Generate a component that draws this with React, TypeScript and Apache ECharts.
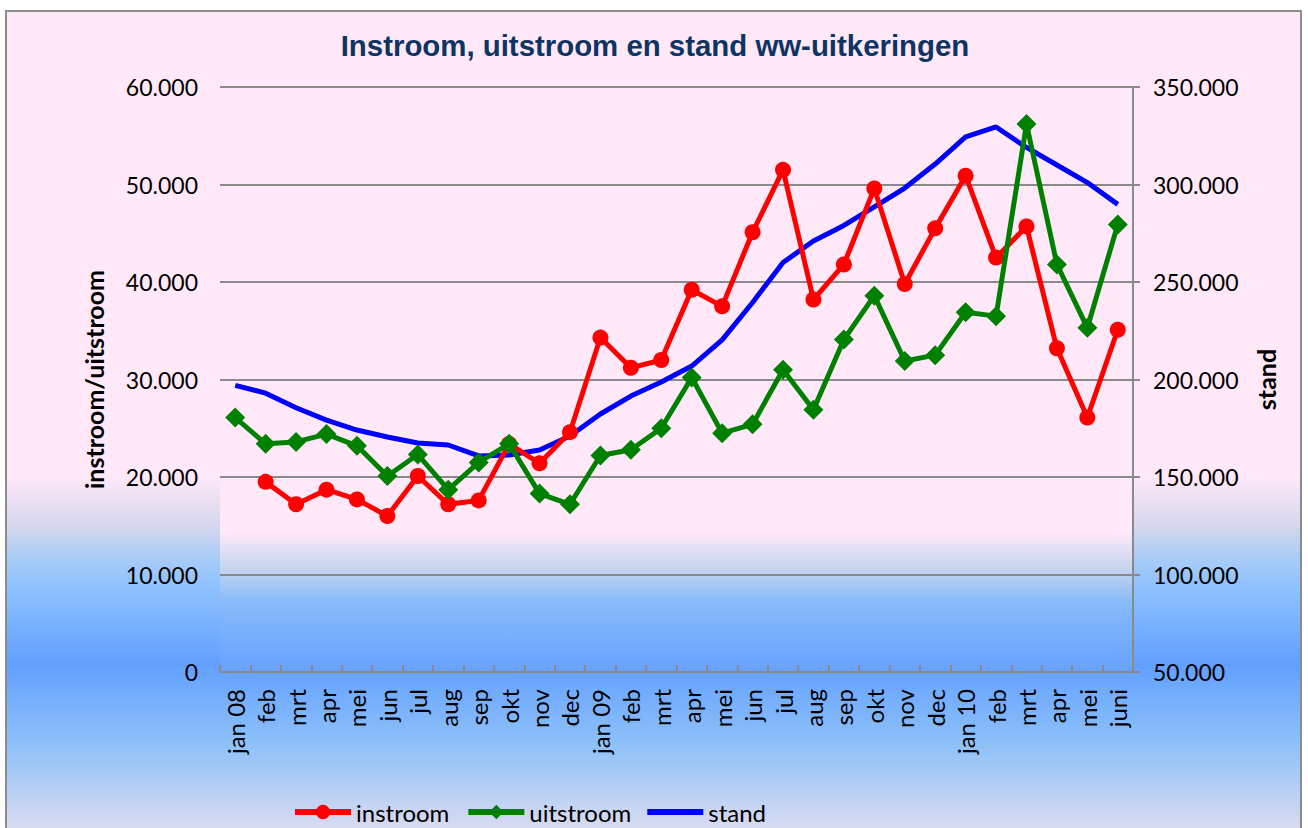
import React, { useEffect, useRef } from "react";
import * as echarts from "echarts";

const categories = [
  "jan 08", "feb", "mrt", "apr", "mei", "jun", "jul", "aug", "sep", "okt", "nov", "dec",
  "jan 09", "feb", "mrt", "apr", "mei", "jun", "jul", "aug", "sep", "okt", "nov", "dec",
  "jan 10", "feb", "mrt", "apr", "mei", "juni",
];

const instroom = [
  null, 19500, 17200, 18700, 17700, 16000, 20100, 17200, 17600, 23400, 21400, 24600,
  34300, 31200, 32000, 39200, 37500, 45100, 51500, 38200, 41800, 49600, 39800, 45500,
  50900, 42500, 45700, 33200, 26100, 35100,
];

const uitstroom = [
  26100, 23400, 23600, 24400, 23200, 20100, 22300, 18700, 21500, 23400, 18300, 17200,
  22200, 22800, 25000, 30200, 24500, 25400, 31000, 26900, 34100, 38600, 31900, 32500,
  36900, 36500, 56200, 41800, 35300, 45900,
];

const stand = [
  197000, 193000, 185500, 179200, 174100, 170500, 167400, 166400, 160800, 161300, 163800, 171000,
  182300, 191500, 198700, 206900, 220300, 239500, 260000, 271000, 279000, 288500, 298200, 310500,
  324400, 329500, 319000, 310000, 301000, 289800,
];

const leftTicks = { min: 0, max: 60000, interval: 10000 };
const rightTicks = { min: 50000, max: 350000, interval: 50000 };

const TITLE = "Instroom, uitstroom en stand ww-uitkeringen";

const fmt = (v: number) => String(v).replace(/\B(?=(\d{3})+(?!\d))/g, ".");

const FONT = "Lato, 'Open Sans', sans-serif";

export default function App() {
  const ref = useRef<HTMLDivElement>(null);

  useEffect(() => {
    if (!ref.current) return;
    const chart = echarts.init(ref.current, null, { renderer: "svg" });
    chart.setOption({
      animation: false,
      backgroundColor: "transparent",
      graphic: [
        {
          type: "text",
          x: 655,
          y: 45,
          scaleX: 0.98,
          style: {
            text: TITLE,
            fontFamily: "'Liberation Sans', Arial, sans-serif",
            fontSize: 30,
            fontWeight: "bold",
            fill: "#0D3462",
            textAlign: "center",
            textVerticalAlign: "middle",
          },
        },
      ],
      legend: {
        left: 287,
        top: 795,
        itemWidth: 56,
        itemHeight: 18,
        itemGap: 16,
        lineStyle: { width: 6 },
        textStyle: { fontFamily: FONT, fontSize: 24, color: "#000" },
        data: [
          { name: "instroom" },
          { name: "uitstroom" },
          { name: "stand", icon: "path://M0,0h56v6h-56z" },
        ],
      },
      grid: {
        left: 220,
        right: 175,
        top: 87,
        bottom: 156,
        show: true,
        borderWidth: 0,
        backgroundColor: new echarts.graphic.LinearGradient(0, 0, 0, 1, [
          { offset: 0, color: "#FFE9F9" },
          { offset: 0.76, color: "#FFE9F9" },
          { offset: 0.82, color: "#C8D6EF" },
          { offset: 0.88, color: "#88BBFA" },
          { offset: 1, color: "#66A1FF" },
        ]),
      },
      xAxis: {
        type: "category",
        data: categories,
        boundaryGap: true,
        axisLine: { lineStyle: { color: "#8A8A8A", width: 2 } },
        axisTick: { show: true, inside: true, length: 7, lineStyle: { color: "#8A8A8A", width: 2 } },
        axisLabel: {
          rotate: 90,
          interval: 0,
          margin: 17,
          fontFamily: FONT,
          fontSize: 24,
          color: "#000",
        },
        splitLine: { show: false },
      },
      yAxis: [
        {
          type: "value",
          ...leftTicks,
          position: "left",
          name: "instroom/uitstroom",
          nameLocation: "middle",
          nameRotate: 90,
          nameGap: 114,
          nameTextStyle: { fontFamily: FONT, fontSize: 25, fontWeight: "bold", color: "#000" },
          axisLine: { show: false },
          axisTick: { show: false },
          axisLabel: { margin: 22, fontFamily: FONT, fontSize: 23, color: "#000", formatter: fmt },
          splitLine: { show: true, lineStyle: { color: "#8A8A8A", width: 2 } },
        },
        {
          type: "value",
          ...rightTicks,
          position: "right",
          name: "stand",
          nameLocation: "middle",
          nameRotate: 90,
          nameGap: 120,
          nameTextStyle: { fontFamily: FONT, fontSize: 25, fontWeight: "bold", color: "#000" },
          axisLine: { show: true, lineStyle: { color: "#8A8A8A", width: 2 } },
          axisTick: { show: true, inside: false, length: 7, lineStyle: { color: "#8A8A8A", width: 2 } },
          axisLabel: { margin: 20, fontFamily: FONT, fontSize: 23, color: "#000", formatter: fmt },
          splitLine: { show: false },
        },
      ],
      series: [
        {
          name: "instroom",
          type: "line",
          data: instroom,
          yAxisIndex: 0,
          symbol: "circle",
          symbolSize: 16,
          color: "#FF0000",
          lineStyle: { width: 5, color: "#FF0000" },
          itemStyle: { color: "#FF0000" },
          z: 3,
        },
        {
          name: "uitstroom",
          type: "line",
          data: uitstroom,
          yAxisIndex: 0,
          symbol: "diamond",
          symbolSize: 20,
          color: "#008000",
          lineStyle: { width: 5, color: "#008000" },
          itemStyle: { color: "#008000" },
          z: 4,
        },
        {
          name: "stand",
          type: "line",
          data: stand,
          yAxisIndex: 1,
          symbol: "none",
          color: "#0000FF",
          lineStyle: { width: 5, color: "#0000FF" },
          itemStyle: { color: "#0000FF" },
          z: 2,
        },
      ],
    });
    return () => chart.dispose();
  }, []);

  return (
    <div style={{ position: "fixed", left: 0, top: 0, width: 1308, height: 828, background: "#fff", overflow: "hidden" }}>
      <div
        style={{
          position: "absolute",
          left: 5,
          top: 10,
          width: 1297,
          height: 830,
          border: "2px solid #8C8C8C",
          boxSizing: "border-box",
          background:
            "linear-gradient(to bottom, #FFE9F9 0%, #FFE9F9 56%, #D8D8EE 62%, #A9CCF6 66%, #8CC0FF 70%, #62A0FF 79%, #90C2F8 89%, #E2DEF0 100%)",
        }}
      />
      <div ref={ref} style={{ position: "absolute", left: 0, top: 0, width: 1308, height: 828 }} />
    </div>
  );
}
